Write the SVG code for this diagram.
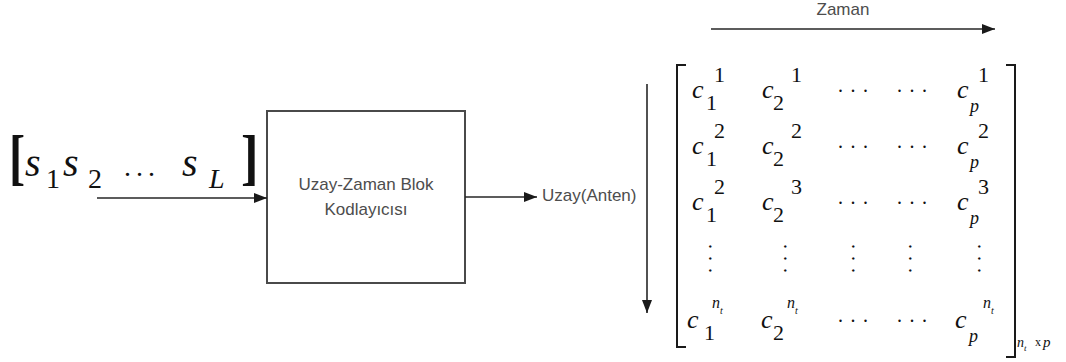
<svg xmlns="http://www.w3.org/2000/svg" width="1066" height="362" viewBox="0 0 1066 362">
  <style>
    .wire { stroke: #262626; stroke-width: 1.6; fill: none; }
    .box { fill: #ffffff; stroke: #4a4a4a; stroke-width: 2; }
    .lbl { font-family: "Liberation Sans", Arial, sans-serif; font-size: 17px; fill: #4d4d4d; }
    .serif { font-family: "Liberation Serif", "Times New Roman", serif; fill: #111; }
    .bk { font-size: 62px; font-weight: bold; }
    .sym { font-size: 40px; font-style: italic; }
    .idx { font-size: 28px; }
    .it { font-style: italic; }
    .c { font-size: 26px; font-style: italic; }
    .d { font-size: 22px; }
    .sp { font-size: 18px; font-style: italic; }
    .n { font-size: 16px; font-style: italic; }
    .t { font-size: 10px; font-style: italic; }
    .hd { font-size: 20px; letter-spacing: 7.5px; }
    .vd { font-size: 20px; letter-spacing: 7px; }
    .mb { stroke: #1a1a1a; stroke-width: 2; fill: none; }
  </style>
  <defs>
    <marker id="head" viewBox="0 0 13 10" markerWidth="13" markerHeight="10" refX="13" refY="5" orient="auto" markerUnits="userSpaceOnUse">
      <path d="M0,0 L13,5 L0,10 z" fill="#1a1a1a"/>
    </marker>
  </defs>
  <rect width="1066" height="362" fill="#ffffff"/>

  <!-- input symbol block [s1 s2 ... sL] -->
  <g id="input-symbols" class="serif">
    <text class="bk" transform="translate(9 178) scale(0.78 1)">[</text>
    <text class="sym" x="25" y="176">s</text>
    <text class="idx" x="46" y="188">1</text>
    <text class="sym" x="63" y="176">s</text>
    <text class="idx" x="88" y="188">2</text>
    <text class="idx" x="124" y="176" style="letter-spacing:5px">...</text>
    <text class="sym" x="182" y="176">s</text>
    <text class="idx it" x="209" y="188">L</text>
    <text class="bk" transform="translate(241 178) scale(0.85 1)">]</text>
  </g>

  <!-- space-time block encoder -->
  <g id="encoder">
    <rect class="box" x="267" y="111" width="198" height="172"/>
    <text class="lbl" x="366" y="190" text-anchor="middle">Uzay-Zaman Blok</text>
    <text class="lbl" x="366" y="215" text-anchor="middle">Kodlayıcısı</text>
  </g>

  <!-- axis labels -->
  <g id="space-label">
    <text class="lbl" x="542" y="201">Uzay(Anten)</text>
  </g>
  <g id="time-label">
    <text class="lbl" x="843" y="15" text-anchor="middle">Zaman</text>
  </g>

  <!-- connectors -->
  <g id="connectors">
    <line class="wire" x1="97" y1="198" x2="267" y2="198" marker-end="url(#head)"/>
    <line class="wire" x1="465" y1="197" x2="537" y2="197" marker-end="url(#head)"/>
    <line class="wire" x1="711" y1="29" x2="995" y2="29" marker-end="url(#head)"/>
    <line class="wire" x1="647" y1="84" x2="647" y2="313" marker-end="url(#head)"/>
  </g>

  <!-- code matrix -->
  <g id="code-matrix" class="serif">
    <path class="mb" d="M686,65 H677 V347 H686"/>
    <path class="mb" d="M1006,65 H1015 V357 H1006"/>

    <!-- row 1 -->
    <text class="c" x="692" y="98">c</text><text class="d" x="706" y="110">1</text><text class="d" x="714" y="82">1</text>
    <text class="c" x="762" y="98">c</text><text class="d" x="773" y="110">2</text><text class="d" x="791" y="82">1</text>
    <text class="hd" x="838" y="92">...</text>
    <text class="hd" x="897" y="92">...</text>
    <text class="c" x="957" y="98">c</text><text class="sp" x="970" y="112">p</text><text class="d" x="978" y="82">1</text>

    <!-- row 2 -->
    <text class="c" x="692" y="154">c</text><text class="d" x="706" y="166">1</text><text class="d" x="714" y="138">2</text>
    <text class="c" x="762" y="154">c</text><text class="d" x="773" y="166">2</text><text class="d" x="791" y="138">2</text>
    <text class="hd" x="838" y="148">...</text>
    <text class="hd" x="897" y="148">...</text>
    <text class="c" x="957" y="154">c</text><text class="sp" x="970" y="168">p</text><text class="d" x="978" y="138">2</text>

    <!-- row 3 -->
    <text class="c" x="692" y="210">c</text><text class="d" x="706" y="222">1</text><text class="d" x="714" y="194">2</text>
    <text class="c" x="762" y="210">c</text><text class="d" x="773" y="222">2</text><text class="d" x="791" y="194">3</text>
    <text class="hd" x="838" y="204">...</text>
    <text class="hd" x="897" y="204">...</text>
    <text class="c" x="957" y="210">c</text><text class="sp" x="970" y="224">p</text><text class="d" x="978" y="194">3</text>

    <!-- row 4: vertical ellipses (dot runs turned downward) -->
    <text class="vd" x="709" y="244" transform="rotate(90 709 244)">...</text>
    <text class="vd" x="784" y="244" transform="rotate(90 784 244)">...</text>
    <text class="vd" x="852" y="244" transform="rotate(90 852 244)">...</text>
    <text class="vd" x="909" y="244" transform="rotate(90 909 244)">...</text>
    <text class="vd" x="978" y="244" transform="rotate(90 978 244)">...</text>

    <!-- row 5 -->
    <text class="c" x="687" y="328">c</text><text class="d" x="704" y="340">1</text>
    <text class="n" x="712" y="308">n</text><text class="t" x="720" y="314">t</text>
    <text class="c" x="761" y="328">c</text><text class="d" x="773" y="340">2</text>
    <text class="n" x="787" y="308">n</text><text class="t" x="795" y="314">t</text>
    <text class="hd" x="838" y="322">...</text>
    <text class="hd" x="897" y="322">...</text>
    <text class="c" x="955" y="328">c</text><text class="sp" x="969" y="342">p</text>
    <text class="n" x="983" y="308">n</text><text class="t" x="991" y="314">t</text>

    <!-- matrix size -->
    <text class="n" x="1017" y="347" style="font-size:14px">n</text><text class="t" x="1024" y="351" style="font-size:9px">t</text>
    <text x="1035" y="346" style="font-size:12px">x</text>
    <text class="n" x="1043" y="347" style="font-size:15px">p</text>
  </g>
</svg>
